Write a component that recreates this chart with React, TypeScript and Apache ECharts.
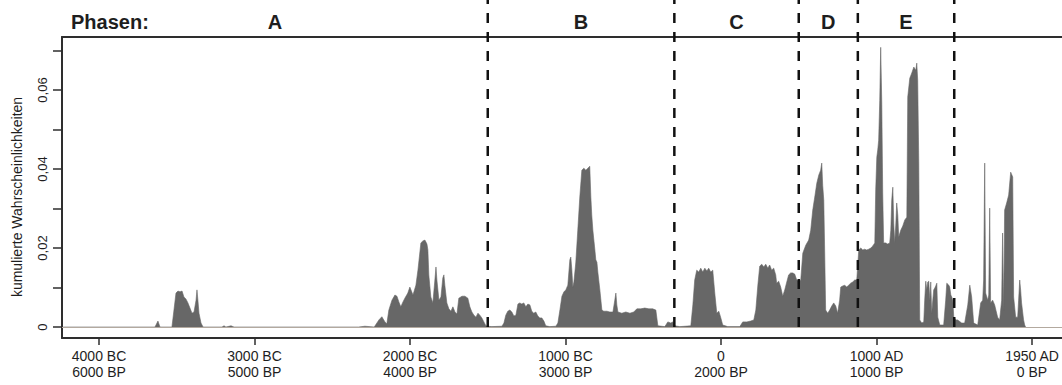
import React, { useEffect, useRef } from "react";
import * as echarts from "echarts";

// x axis in years BP (before 1950), drawn inverted (old on the left)
const xTickBP = [6000, 5000, 4000, 3000, 2000, 1000, 0];
const xTickCal = ["4000 BC", "3000 BC", "2000 BC", "1000 BC", "0", "1000 AD", "1950 AD"];
const yTicks = [0, 0.01, 0.02, 0.03, 0.04, 0.05, 0.06, 0.07];
const yLabelTicks = [0, 0.02, 0.04, 0.06];
const phaseNames = ["A", "B", "C", "D", "E"];
const phaseBounds = [3500, 2300, 1500, 1120, 500];
const X_MIN = -193;
const X_MAX = 6238;
const Y_MIN = -0.00278;
const Y_MAX = 0.07342;
const DASH_TOP = 0.0828;

// [years BP, cumulative probability]
const phaseA: [number, number][] = [
  [6230, 0], [5640, 0], [5621, 0.0015], [5608, 0], [5531, 0], [5518, 0.0043], [5505, 0.0086],
  [5492, 0.0091], [5479, 0.0089], [5466, 0.0091], [5454, 0.0076], [5441, 0.0071], [5428, 0.0061],
  [5415, 0.0048], [5402, 0.0035], [5389, 0.0038], [5376, 0.0068], [5370, 0.0094], [5364, 0.0068],
  [5357, 0.0035], [5344, 0.001], [5331, 0], [5209, 0], [5196, 0.0003], [5184, 0], [5151, 0.0003],
  [5132, 0], [4330, 0], [4290, 0.0002], [4230, 0], [4200, 0.0018], [4181, 0.0026], [4161, 0.0013],
  [4149, 0.0008], [4136, 0.0043], [4116, 0.0068], [4097, 0.0081], [4084, 0.0078], [4071, 0.0063],
  [4059, 0.0051], [4046, 0.0063], [4033, 0.0073], [4014, 0.0086], [4001, 0.0101], [3981, 0.0081],
  [3962, 0.0106], [3949, 0.0144], [3930, 0.0213], [3917, 0.0218], [3904, 0.022], [3891, 0.021],
  [3885, 0.0195], [3879, 0.0132], [3866, 0.0076], [3853, 0.0061], [3840, 0.0119], [3833, 0.0152],
  [3827, 0.0119], [3814, 0.0068], [3801, 0.0076], [3789, 0.0124], [3782, 0.0132], [3776, 0.0106],
  [3763, 0.0061], [3750, 0.0046], [3737, 0.004], [3724, 0.0051], [3711, 0.0038], [3698, 0.0033],
  [3686, 0.0073], [3666, 0.0078], [3647, 0.0078], [3628, 0.0073], [3615, 0.0051], [3602, 0.0038],
  [3589, 0.003], [3576, 0.0025], [3563, 0.0035], [3551, 0.003], [3538, 0.0023], [3525, 0.0013],
  [3512, 0.0003], [3499, 0.0002],
];

const phaseB: [number, number][] = [
  [3474, 0.0001], [3409, 0.0002], [3396, 0.001], [3384, 0.003], [3371, 0.004], [3358, 0.0043],
  [3345, 0.0038], [3332, 0.0028], [3319, 0.003], [3306, 0.0058], [3294, 0.0061], [3281, 0.0058],
  [3268, 0.0061], [3255, 0.0051], [3242, 0.0058], [3229, 0.0056], [3217, 0.004], [3204, 0.0035],
  [3191, 0.0038], [3178, 0.0028], [3165, 0.0023], [3152, 0.0023], [3139, 0.0015], [3127, 0.0003],
  [3101, 0.0001], [3062, 0.0002], [3049, 0.001], [3036, 0.0043], [3023, 0.0078], [3010, 0.0089],
  [2998, 0.0094], [2985, 0.0106], [2972, 0.017], [2966, 0.0177], [2959, 0.0144], [2953, 0.0101],
  [2946, 0.0114], [2934, 0.0162], [2921, 0.0245], [2908, 0.0329], [2895, 0.0397], [2882, 0.0402],
  [2869, 0.0397], [2856, 0.0402], [2844, 0.0407], [2837, 0.0329], [2831, 0.0283], [2824, 0.0245],
  [2811, 0.0195], [2805, 0.017], [2798, 0.0164], [2792, 0.0139], [2779, 0.0094], [2766, 0.0043],
  [2754, 0.004], [2734, 0.004], [2715, 0.0038], [2695, 0.0038], [2683, 0.0068], [2676, 0.0086],
  [2670, 0.0056], [2663, 0.0038], [2638, 0.0035], [2612, 0.0038], [2586, 0.0035], [2561, 0.0038],
  [2541, 0.0046], [2516, 0.0046], [2490, 0.0048], [2464, 0.0046], [2439, 0.0046], [2419, 0.0043],
  [2406, 0.0003], [2361, 0.0001], [2342, 0.0013], [2323, 0.001], [2310, 0.0013], [2297, 0.0003],
];

const phaseC: [number, number][] = [
  [2265, 0.0001], [2194, 0.0003], [2181, 0.0056], [2169, 0.0119], [2156, 0.0144], [2143, 0.0139],
  [2130, 0.0149], [2117, 0.0139], [2104, 0.0149], [2091, 0.0142], [2079, 0.0149], [2066, 0.0139],
  [2053, 0.0144], [2040, 0.0086], [2027, 0.0035], [2014, 0.004], [2001, 0.0023], [1989, 0.0005],
  [1957, 0.0001], [1879, 0.0001], [1860, 0.0013], [1834, 0.0013], [1809, 0.0015], [1789, 0.0018],
  [1776, 0.0043], [1763, 0.0106], [1751, 0.0154], [1738, 0.0159], [1725, 0.0152], [1712, 0.0159],
  [1699, 0.0149], [1687, 0.0157], [1674, 0.0144], [1661, 0.0149], [1648, 0.0132], [1642, 0.0111],
  [1629, 0.0116], [1616, 0.0101], [1603, 0.0078], [1590, 0.0094], [1577, 0.0114], [1565, 0.0132],
  [1552, 0.0137], [1539, 0.0137], [1526, 0.0134], [1513, 0.0119], [1500, 0.0116],
];

const phaseD: [number, number][] = [
  [1487, 0.0119], [1474, 0.0187], [1455, 0.0207], [1436, 0.022], [1423, 0.0245], [1410, 0.0296],
  [1397, 0.0329], [1384, 0.0364], [1371, 0.0385], [1359, 0.0397], [1352, 0.0415], [1346, 0.0359],
  [1339, 0.0321], [1333, 0.0187], [1327, 0.0043], [1314, 0.0035], [1301, 0.0043], [1288, 0.0053],
  [1275, 0.0061], [1262, 0.0053], [1250, 0.0035], [1237, 0.0068], [1230, 0.0101], [1217, 0.0104],
  [1204, 0.0106], [1192, 0.0101], [1179, 0.0106], [1166, 0.0111], [1153, 0.0114], [1140, 0.0119],
  [1127, 0.0119],
];

const phaseE: [number, number][] = [
  [1114, 0.0195], [1101, 0.02], [1088, 0.0195], [1076, 0.0197], [1063, 0.0195], [1050, 0.0197],
  [1037, 0.02], [1024, 0.0205], [1011, 0.0213], [1005, 0.0347], [998, 0.043], [992, 0.0448],
  [986, 0.0473], [979, 0.0574], [973, 0.0708], [966, 0.0567], [960, 0.0339], [954, 0.0213],
  [941, 0.0213], [928, 0.021], [915, 0.0213], [908, 0.0245], [902, 0.0321], [895, 0.0354],
  [889, 0.0263], [883, 0.0213], [876, 0.0258], [870, 0.0314], [863, 0.0283], [857, 0.0228],
  [844, 0.0245], [831, 0.0256], [818, 0.0271], [805, 0.0278], [799, 0.0582], [786, 0.063],
  [773, 0.0643], [760, 0.0658], [747, 0.065], [741, 0.0668], [735, 0.0625], [728, 0.0415],
  [722, 0.0018], [709, 0.001], [696, 0.0013], [690, 0.0068], [683, 0.0116], [677, 0.0094],
  [670, 0.0114], [664, 0.0116], [657, 0.0068], [651, 0.0114], [645, 0.0035], [638, 0.0068],
  [632, 0.0094], [625, 0.0099], [619, 0.0104], [612, 0.0111], [606, 0.0025], [593, 0.0005],
  [568, 0.0005], [555, 0.0068], [548, 0.0111], [535, 0.0106], [529, 0.0101], [522, 0.0081],
  [516, 0.0076], [509, 0.0068], [503, 0.0025], [490, 0.0018], [478, 0.0018], [452, 0.001],
  [433, 0.001], [413, 0.0056], [400, 0.0106], [388, 0.0076], [375, 0.001], [349, 0.0005],
  [336, 0.0043], [330, 0.0061], [317, 0.0068], [311, 0.0119], [304, 0.0415], [298, 0.0086],
  [285, 0.0068], [278, 0.0081], [272, 0.0301], [266, 0.0061], [253, 0.0068], [240, 0.0056],
  [221, 0.0025], [208, 0.0018], [195, 0.0068], [189, 0.0238], [182, 0.0043], [176, 0.0296],
  [163, 0.0314], [150, 0.0334], [137, 0.0392], [124, 0.038], [118, 0.0076], [105, 0.0025],
  [92, 0.0025], [86, 0.0068], [79, 0.0119], [73, 0.0094], [67, 0.0061], [54, 0.0018],
  [47, 0.0005], [41, 0],
];

const FONT = "Liberation Sans";
const TEXT = "#1e1e1e";
const AXIS = "#2e2e2e";
const FILL = "#676767";

export default function App() {
  const ref = useRef<HTMLDivElement>(null);

  useEffect(() => {
    if (!ref.current) return;
    const chart = echarts.init(ref.current, null, { renderer: "svg" });
    const areaData = [...phaseA, ...phaseB, ...phaseC, ...phaseD, ...phaseE];

    const xBase = {
      type: "value",
      min: X_MIN,
      max: X_MAX,
      inverse: true,
      splitLine: { show: false },
    };

    chart.setOption({
      animation: false,
      backgroundColor: "#ffffff",
      grid: {
        left: 62,
        right: 0,
        top: 37,
        bottom: 47,
        containLabel: false,
        outerBoundsMode: "none",
      },
      xAxis: [
        {
          ...xBase,
          position: "bottom",
          axisLine: { show: true, onZero: false, lineStyle: { color: AXIS, width: 2 } },
          axisTick: {
            show: true,
            length: 7,
            inside: false,
            customValues: xTickBP,
            lineStyle: { color: AXIS, width: 1.5 },
          },
          axisLabel: {
            show: true,
            customValues: xTickBP,
            margin: 10,
            fontFamily: FONT,
            fontSize: 14,
            lineHeight: 16,
            color: TEXT,
            hideOverlap: false,
            formatter: (v: number) => {
              const i = xTickBP.indexOf(Math.round(v));
              return i >= 0 ? `${xTickCal[i]}\n${Math.round(v)} BP` : "";
            },
          },
        },
        {
          ...xBase,
          position: "top",
          axisLine: { show: true, onZero: false, lineStyle: { color: AXIS, width: 2 } },
          axisTick: { show: false },
          axisLabel: { show: false },
        },
      ],
      yAxis: {
        type: "value",
        min: Y_MIN,
        max: Y_MAX,
        splitLine: { show: false },
        axisLine: { show: true, onZero: false, lineStyle: { color: AXIS, width: 2 } },
        axisTick: {
          show: true,
          length: 9,
          customValues: yTicks,
          lineStyle: { color: AXIS, width: 1.5 },
        },
        axisLabel: {
          show: true,
          customValues: yLabelTicks,
          rotate: 90,
          margin: 13,
          fontFamily: FONT,
          fontSize: 13,
          color: TEXT,
          formatter: (v: number) => (Math.abs(v) < 1e-9 ? "0" : v.toFixed(2).replace(".", ",")),
        },
      },
      series: [
        {
          type: "line",
          data: areaData,
          symbol: "none",
          showSymbol: false,
          silent: true,
          lineStyle: { color: FILL, width: 0.6 },
          areaStyle: { color: FILL, opacity: 1 },
          z: 2,
          markLine: {
            silent: true,
            symbol: "none",
            label: { show: false },
            lineStyle: { color: "#b3a99f", width: 1, type: "solid" },
            data: [{ yAxis: 0 }],
          },
        },
        ...phaseBounds.map((b) => ({
          type: "line",
          data: [
            [b, 0],
            [b, DASH_TOP],
          ],
          symbol: "none",
          silent: true,
          clip: false,
          z: 5,
          lineStyle: { color: "#111111", width: 2.5, type: [10, 9] },
        })),
      ],
    });

    const px = (bp: number) => chart.convertToPixel({ xAxisIndex: 0 }, bp) as number;
    const edges = [X_MAX, ...phaseBounds];
    const labelEls = phaseNames.map((name, i) => ({
      type: "text",
      x: (px(edges[i]) + px(edges[i + 1])) / 2,
      y: 22,
      silent: true,
      style: {
        text: name,
        fontFamily: FONT,
        fontSize: 20,
        fontWeight: "bold",
        fill: TEXT,
        align: "center",
        verticalAlign: "middle",
        textAlign: "center",
        textVerticalAlign: "middle",
      },
    }));

    chart.setOption({
      graphic: {
        elements: [
          {
            type: "text",
            x: 71,
            y: 22,
            silent: true,
            style: {
              text: "Phasen:",
              fontFamily: FONT,
              fontSize: 20,
              fontWeight: "bold",
              fill: TEXT,
              align: "left",
              verticalAlign: "middle",
              textAlign: "left",
              textVerticalAlign: "middle",
            },
          },
          ...labelEls,
          {
            type: "text",
            x: 17,
            y: 197,
            rotation: Math.PI / 2,
            silent: true,
            style: {
              text: "kumulierte Wahrscheinlichkeiten",
              fontFamily: FONT,
              fontSize: 14,
              fill: TEXT,
              align: "center",
              verticalAlign: "middle",
              textAlign: "center",
              textVerticalAlign: "middle",
            },
          },
        ],
      },
    });

    return () => chart.dispose();
  }, []);

  return (
    <div
      ref={ref}
      style={{ position: "absolute", left: 0, top: 0, width: 1062, height: 385 }}
    />
  );
}
